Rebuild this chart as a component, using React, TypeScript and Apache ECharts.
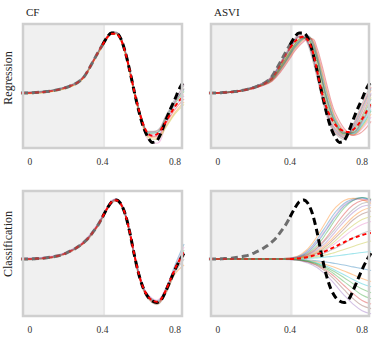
import React, { useEffect, useRef } from "react";
import * as echarts from "echarts";

// ---------- data ----------
const xGrid = [
  -0.05, -0.025, 0, 0.025, 0.05, 0.075, 0.1, 0.125, 0.15, 0.175, 0.2, 0.225, 0.25, 0.275, 0.3, 0.325,
  0.35, 0.375, 0.4, 0.425, 0.45, 0.475, 0.5, 0.525, 0.55, 0.575, 0.6, 0.625, 0.65, 0.675, 0.7, 0.725,
  0.75, 0.775, 0.8, 0.825, 0.85,
];
const sampleX = [
  -0.05, 0.05, 0.15, 0.25, 0.3, 0.35, 0.4, 0.425, 0.45, 0.475, 0.5, 0.525, 0.55, 0.575, 0.6, 0.625,
  0.65, 0.7, 0.75, 0.8, 0.85,
];
const xTickValues = [0, 0.4, 0.8];
const contextEnd = 0.4;
const columnTitles = ["CF", "ASVI"];
const rowTitles = ["Regression", "Classification"];

const regTrue = [
  0, 0, 0, 0.01, 0.02, 0.03, 0.05, 0.07, 0.1, 0.14, 0.18, 0.24, 0.3, 0.4, 0.55, 0.8,
  1.07, 1.35, 1.6, 1.85, 2.0, 2.0, 1.82, 1.37, 0.75, 0.05, -0.6, -1.13, -1.47, -1.65, -1.6, -1.3,
  -0.9, -0.53, -0.2, 0.15, 0.4,
];
const regMeanCF = [
  0, 0, 0, 0.01, 0.02, 0.03, 0.05, 0.07, 0.1, 0.14, 0.18, 0.24, 0.3, 0.4, 0.55, 0.8,
  1.07, 1.35, 1.6, 1.84, 1.97, 1.97, 1.8, 1.36, 0.75, 0.06, -0.55, -1.05, -1.35, -1.43, -1.38, -1.2,
  -0.95, -0.7, -0.45, -0.25, -0.08,
];
const regMeanASVI = [
  0, 0, 0, 0.01, 0.02, 0.03, 0.05, 0.07, 0.1, 0.13, 0.17, 0.22, 0.28, 0.37, 0.48, 0.7,
  0.97, 1.25, 1.5, 1.7, 1.83, 1.87, 1.75, 1.4, 0.75, 0.05, -0.45, -0.8, -1.05, -1.2, -1.28, -1.3,
  -1.23, -1.08, -0.87, -0.62, -0.35,
];
const clsTrue = [
  0, 0, 0, 0.01, 0.02, 0.03, 0.05, 0.07, 0.1, 0.14, 0.2, 0.27, 0.35, 0.45, 0.57, 0.72,
  0.92, 1.13, 1.4, 1.68, 1.9, 1.97, 1.85, 1.5, 0.9, 0.15, -0.5, -0.97, -1.25, -1.4, -1.45, -1.35,
  -1.05, -0.7, -0.35, -0.05, 0.2,
];
const clsMeanCF = [
  0, 0, 0, 0.01, 0.02, 0.03, 0.05, 0.07, 0.1, 0.14, 0.2, 0.27, 0.35, 0.45, 0.57, 0.72,
  0.92, 1.13, 1.4, 1.68, 1.9, 1.96, 1.84, 1.5, 0.9, 0.16, -0.49, -0.96, -1.24, -1.38, -1.42, -1.32,
  -1.03, -0.68, -0.33, -0.03, 0.22,
];
const clsMeanASVI = [
  0, 0, 0, 0, 0, 0, 0, 0, 0, 0, 0, 0, 0, 0, 0, 0,
  0, 0, 0, 0.01, 0.02, 0.04, 0.07, 0.11, 0.16, 0.21, 0.27, 0.34, 0.41, 0.49, 0.56, 0.63,
  0.7, 0.75, 0.8, 0.84, 0.87,
];

const regSamplesCF = [
  [0.02, 0.04, 0.12, 0.32, 0.57, 1.09, 1.62, 1.87, 2.02, 2.02, 1.85, 1.42, 0.8, 0.1, -0.52, -1.02, -1.33, -1.32, -0.82, -0.28, 0.12],
  [-0.02, 0.0, 0.08, 0.28, 0.53, 1.05, 1.57, 1.83, 1.97, 1.97, 1.78, 1.32, 0.7, 0.0, -0.62, -1.12, -1.45, -1.5, -1.1, -0.65, -0.3],
  [0.01, 0.03, 0.11, 0.31, 0.56, 1.08, 1.61, 1.86, 2.0, 2.0, 1.83, 1.38, 0.76, 0.06, -0.56, -1.05, -1.35, -1.33, -0.88, -0.36, 0.05],
  [-0.01, 0.01, 0.09, 0.29, 0.54, 1.06, 1.58, 1.84, 1.98, 1.98, 1.8, 1.34, 0.72, 0.02, -0.6, -1.1, -1.42, -1.45, -1.02, -0.55, -0.2],
  [0.0, 0.02, 0.1, 0.3, 0.55, 1.07, 1.6, 1.85, 1.99, 1.99, 1.81, 1.36, 0.74, 0.04, -0.57, -1.07, -1.38, -1.4, -0.95, -0.45, -0.1],
  [0.01, 0.02, 0.1, 0.3, 0.55, 1.07, 1.6, 1.86, 2.01, 2.0, 1.82, 1.39, 0.78, 0.08, -0.53, -1.0, -1.3, -1.28, -0.8, -0.3, 0.15],
  [0.0, 0.02, 0.1, 0.3, 0.55, 1.07, 1.6, 1.85, 2.0, 2.01, 1.84, 1.4, 0.78, 0.06, -0.62, -1.18, -1.55, -1.68, -1.05, -0.3, 0.3],
  [0.03, 0.05, 0.13, 0.34, 0.59, 1.11, 1.64, 1.89, 2.04, 2.03, 1.86, 1.43, 0.82, 0.12, -0.5, -0.98, -1.28, -1.25, -0.75, -0.2, 0.25],
  [-0.03, -0.01, 0.07, 0.27, 0.52, 1.04, 1.56, 1.82, 1.96, 1.96, 1.77, 1.3, 0.68, -0.03, -0.65, -1.15, -1.48, -1.55, -1.15, -0.7, -0.38],
];
const regSamplesASVI = [
  [0, 0.02, 0.1, 0.28, 0.45, 0.85, 1.3, 1.55, 1.72, 1.82, 1.8, 1.55, 1.1, 0.45, -0.2, -0.7, -1.0, -1.35, -1.3, -0.85, -0.2],
  [0, 0.02, 0.1, 0.3, 0.5, 0.95, 1.45, 1.7, 1.85, 1.85, 1.7, 1.3, 0.7, 0.05, -0.5, -0.95, -1.2, -1.45, -1.2, -0.6, 0.1],
  [0, 0.01, 0.08, 0.26, 0.42, 0.8, 1.25, 1.48, 1.66, 1.8, 1.88, 1.75, 1.3, 0.7, 0.1, -0.42, -0.85, -1.3, -1.38, -1.1, -0.6],
  [0, 0.02, 0.11, 0.32, 0.55, 1.0, 1.5, 1.75, 1.9, 1.88, 1.65, 1.2, 0.6, -0.05, -0.6, -1.05, -1.3, -1.5, -1.1, -0.45, 0.2],
  [0, 0.01, 0.09, 0.27, 0.44, 0.82, 1.28, 1.52, 1.7, 1.84, 1.9, 1.7, 1.25, 0.62, 0.0, -0.52, -0.95, -1.35, -1.35, -1.0, -0.45],
  [0, 0.02, 0.1, 0.29, 0.48, 0.9, 1.38, 1.62, 1.8, 1.84, 1.78, 1.45, 0.9, 0.25, -0.35, -0.82, -1.1, -1.4, -1.25, -0.75, -0.05],
  [0, 0.01, 0.08, 0.25, 0.4, 0.75, 1.2, 1.42, 1.6, 1.74, 1.82, 1.78, 1.4, 0.85, 0.25, -0.3, -0.75, -1.25, -1.4, -1.2, -0.8],
  [0, 0.02, 0.12, 0.33, 0.55, 1.05, 1.55, 1.8, 1.95, 1.88, 1.6, 1.1, 0.5, -0.15, -0.7, -1.12, -1.35, -1.55, -1.05, -0.35, 0.3],
  [0, 0.02, 0.1, 0.28, 0.46, 0.88, 1.35, 1.6, 1.78, 1.84, 1.8, 1.5, 1.0, 0.35, -0.3, -0.78, -1.05, -1.38, -1.28, -0.8, -0.15],
  [0, 0.01, 0.09, 0.27, 0.43, 0.8, 1.27, 1.5, 1.68, 1.8, 1.87, 1.68, 1.2, 0.55, -0.05, -0.55, -0.9, -1.32, -1.36, -1.05, -0.55],
  [0, 0.02, 0.11, 0.31, 0.52, 0.98, 1.47, 1.72, 1.87, 1.86, 1.68, 1.25, 0.65, 0.0, -0.55, -1.0, -1.25, -1.48, -1.15, -0.52, 0.15],
  [0, 0.01, 0.09, 0.26, 0.41, 0.78, 1.22, 1.45, 1.63, 1.77, 1.85, 1.76, 1.35, 0.78, 0.18, -0.36, -0.8, -1.28, -1.4, -1.15, -0.7],
  [0, 0.02, 0.1, 0.29, 0.47, 0.9, 1.36, 1.6, 1.77, 1.85, 1.82, 1.58, 1.12, 0.5, -0.12, -0.62, -0.98, -1.36, -1.33, -0.92, -0.35],
  [0, 0.01, 0.08, 0.25, 0.39, 0.72, 1.15, 1.38, 1.56, 1.7, 1.8, 1.8, 1.5, 0.98, 0.38, -0.2, -0.65, -1.18, -1.42, -1.3, -0.95],
  [0, 0.02, 0.11, 0.32, 0.53, 1.0, 1.48, 1.73, 1.88, 1.87, 1.7, 1.3, 0.75, 0.1, -0.48, -0.92, -1.18, -1.42, -1.22, -0.65, 0.0],
  [0, 0.01, 0.09, 0.28, 0.44, 0.84, 1.3, 1.54, 1.72, 1.83, 1.86, 1.65, 1.18, 0.52, -0.1, -0.6, -0.95, -1.33, -1.32, -0.95, -0.4],
];
const clsSamplesCF = [
  [0.02, 0.04, 0.12, 0.37, 0.6, 0.95, 1.43, 1.71, 1.93, 2.0, 1.89, 1.55, 0.96, 0.21, -0.44, -0.92, -1.2, -1.4, -0.98, -0.2, 0.5],
  [-0.02, 0.0, 0.08, 0.33, 0.54, 0.89, 1.37, 1.65, 1.87, 1.94, 1.81, 1.45, 0.84, 0.09, -0.56, -1.02, -1.3, -1.5, -1.12, -0.5, -0.2],
  [0.01, 0.03, 0.11, 0.36, 0.58, 0.93, 1.41, 1.69, 1.91, 1.98, 1.87, 1.52, 0.93, 0.18, -0.47, -0.95, -1.23, -1.43, -1.02, -0.3, 0.3],
  [-0.01, 0.01, 0.09, 0.34, 0.56, 0.91, 1.39, 1.67, 1.89, 1.96, 1.83, 1.48, 0.87, 0.12, -0.53, -0.99, -1.27, -1.47, -1.08, -0.4, 0.1],
  [0.0, 0.02, 0.1, 0.35, 0.57, 0.92, 1.4, 1.68, 1.9, 1.97, 1.86, 1.51, 0.92, 0.17, -0.48, -0.96, -1.24, -1.44, -1.04, -0.33, 0.22],
  [0.01, 0.02, 0.1, 0.35, 0.57, 0.92, 1.41, 1.69, 1.91, 1.98, 1.84, 1.49, 0.89, 0.14, -0.51, -0.98, -1.26, -1.46, -1.06, -0.37, 0.17],
  [0.03, 0.05, 0.13, 0.38, 0.61, 0.97, 1.45, 1.73, 1.95, 2.01, 1.9, 1.57, 0.98, 0.23, -0.42, -0.9, -1.18, -1.37, -0.95, -0.25, 0.4],
  [-0.03, -0.01, 0.07, 0.32, 0.53, 0.87, 1.35, 1.63, 1.85, 1.93, 1.8, 1.43, 0.82, 0.07, -0.58, -1.04, -1.32, -1.52, -1.15, -0.45, 0.0],
];
const clsSamplesASVI = [
  [0, 0, 0, 0, 0, 0.01, 0.03, 0.06, 0.1, 0.18, 0.3, 0.45, 0.65, 0.88, 1.1, 1.33, 1.55, 1.85, 2.0, 2.05, 1.95],
  [0, 0, 0, 0, 0, 0.01, 0.04, 0.07, 0.12, 0.22, 0.35, 0.53, 0.75, 1.0, 1.25, 1.5, 1.7, 1.95, 2.02, 1.98, 1.85],
  [0, 0, 0, 0, 0, 0.01, 0.02, 0.04, 0.07, 0.13, 0.2, 0.31, 0.45, 0.63, 0.85, 1.07, 1.3, 1.7, 1.95, 2.05, 2.0],
  [0, 0, 0, 0, 0, 0, 0.02, 0.03, 0.06, 0.11, 0.17, 0.26, 0.38, 0.53, 0.7, 0.9, 1.1, 1.5, 1.8, 1.95, 1.98],
  [0, 0, 0, 0, 0, 0, 0.02, 0.03, 0.05, 0.09, 0.14, 0.21, 0.3, 0.42, 0.55, 0.72, 0.9, 1.25, 1.55, 1.75, 1.8],
  [0, 0, 0, 0, 0, 0, 0.01, 0.02, 0.04, 0.07, 0.1, 0.15, 0.22, 0.31, 0.42, 0.55, 0.7, 1.0, 1.3, 1.5, 1.6],
  [0, 0, 0, 0, 0, 0, 0.01, 0.02, 0.03, 0.05, 0.08, 0.12, 0.17, 0.24, 0.32, 0.42, 0.52, 0.75, 0.98, 1.15, 1.25],
  [0, 0, 0, 0, 0, 0, 0.01, 0.02, 0.03, 0.04, 0.06, 0.09, 0.12, 0.17, 0.22, 0.29, 0.36, 0.52, 0.7, 0.85, 0.95],
  [0, 0, 0, 0, 0, 0, 0.01, 0.01, 0.02, 0.03, 0.04, 0.06, 0.08, 0.11, 0.14, 0.18, 0.22, 0.32, 0.42, 0.52, 0.6],
  [0, 0, 0, 0, 0, 0, 0, 0, 0.01, 0.01, 0.02, 0.03, 0.04, 0.05, 0.07, 0.08, 0.1, 0.14, 0.18, 0.22, 0.25],
  [0, 0, 0, 0, 0, 0, 0, 0, -0.01, -0.02, -0.03, -0.04, -0.06, -0.08, -0.1, -0.12, -0.15, -0.2, -0.26, -0.32, -0.38],
  [0, 0, 0, 0, 0, 0, -0.01, -0.01, -0.02, -0.03, -0.05, -0.07, -0.1, -0.14, -0.18, -0.23, -0.28, -0.4, -0.52, -0.65, -0.75],
  [0, 0, 0, 0, 0, 0, -0.01, -0.02, -0.03, -0.05, -0.07, -0.11, -0.15, -0.21, -0.27, -0.35, -0.43, -0.62, -0.82, -1.0, -1.12],
  [0, 0, 0, 0, 0, 0, -0.01, -0.02, -0.03, -0.06, -0.09, -0.14, -0.2, -0.28, -0.37, -0.48, -0.6, -0.88, -1.15, -1.38, -1.5],
  [0, 0, 0, 0, 0, -0.01, -0.02, -0.03, -0.05, -0.09, -0.13, -0.2, -0.28, -0.4, -0.52, -0.68, -0.85, -1.2, -1.5, -1.72, -1.82],
  [0, 0, 0, 0, 0, 0, -0.01, -0.02, -0.04, -0.07, -0.1, -0.16, -0.22, -0.32, -0.42, -0.56, -0.7, -1.02, -1.32, -1.55, -1.65],
  [0, 0, 0, 0, 0, 0.01, 0.03, 0.05, 0.09, 0.16, 0.26, 0.4, 0.58, 0.8, 1.0, 1.23, 1.45, 1.8, 1.97, 2.0, 1.9],
  [0, 0, 0, 0, 0, 0, 0.02, 0.03, 0.05, 0.1, 0.15, 0.23, 0.35, 0.48, 0.65, 0.82, 1.0, 1.35, 1.65, 1.85, 1.9],
  [0, 0, 0, 0, 0, 0, 0.01, 0.02, 0.03, 0.06, 0.09, 0.13, 0.19, 0.27, 0.36, 0.47, 0.6, 0.88, 1.12, 1.32, 1.42],
  [0, 0, 0, 0, 0, 0, -0.01, -0.01, -0.02, -0.04, -0.06, -0.09, -0.13, -0.18, -0.23, -0.3, -0.37, -0.52, -0.68, -0.82, -0.92],
  [0, 0, 0, 0, 0, 0.01, 0.02, 0.04, 0.08, 0.14, 0.24, 0.37, 0.54, 0.74, 0.96, 1.18, 1.4, 1.76, 1.96, 2.03, 1.97],
  [0, 0, 0, 0, 0, 0, 0.01, 0.02, 0.04, 0.08, 0.12, 0.18, 0.26, 0.36, 0.48, 0.62, 0.78, 1.1, 1.4, 1.62, 1.72],
  [0, 0, 0, 0, 0, 0, -0.01, -0.02, -0.03, -0.05, -0.08, -0.12, -0.17, -0.24, -0.32, -0.41, -0.52, -0.75, -0.98, -1.2, -1.32],
];

const sampleColors = [
  "#1f77b4", "#ff7f0e", "#2ca02c", "#d62728", "#9467bd",
  "#8c564b", "#e377c2", "#7f7f7f", "#bcbd22", "#17becf",
];

const SERIF = '"Liberation Serif", "DejaVu Serif", serif';

export default function App() {
  const ref = useRef<HTMLDivElement>(null);
  useEffect(() => {
    if (!ref.current) return;
    const chart = echarts.init(ref.current, null, { renderer: "svg" });

    const xMin = -0.0441;
    const xMax = 0.844;
    const panels = [
      { rect: { left: 22, top: 23, width: 161, height: 126 }, yMin: -1.87, yMax: 2.33, truth: regTrue, mean: regMeanCF, samples: regSamplesCF },
      { rect: { left: 210, top: 23, width: 160, height: 126 }, yMin: -1.87, yMax: 2.33, truth: regTrue, mean: regMeanASVI, samples: regSamplesASVI },
      { rect: { left: 22, top: 190, width: 161, height: 127 }, yMin: -1.93, yMax: 2.3, truth: clsTrue, mean: clsMeanCF, samples: clsSamplesCF },
      { rect: { left: 210, top: 190, width: 160, height: 127 }, yMin: -1.93, yMax: 2.3, truth: clsTrue, mean: clsMeanASVI, samples: clsSamplesASVI },
    ];

    const pairs = (xs: number[], ys: number[]) => xs.map((x, i) => [x, ys[i]]);

    const grids: any[] = [];
    const xAxes: any[] = [];
    const yAxes: any[] = [];
    const series: any[] = [];
    const graphics: any[] = [];

    panels.forEach((p, idx) => {
      grids.push({ ...p.rect, containLabel: false });
      xAxes.push({
        type: "value",
        gridIndex: idx,
        min: xMin,
        max: xMax,
        axisLine: { show: false },
        axisTick: { show: false },
        splitLine: { show: false },
        axisLabel: {
          customValues: xTickValues,
          formatter: (v: number) => String(Math.round(v * 10) / 10),
          fontFamily: SERIF,
          fontSize: 9.5,
          color: "#333",
          margin: 8,
        },
      });
      yAxes.push({
        type: "value",
        gridIndex: idx,
        min: p.yMin,
        max: p.yMax,
        show: false,
        splitLine: { show: false },
      });
      const ax = { xAxisIndex: idx, yAxisIndex: idx };
      // context shading
      series.push({
        type: "line",
        ...ax,
        z: 1,
        data: [[xMin, p.yMin]],
        showSymbol: false,
        lineStyle: { width: 0 },
        silent: true,
        markArea: {
          silent: true,
          data: [
            [{ xAxis: xMin, itemStyle: { color: "#f0f0f0" } }, { xAxis: contextEnd }],
            [{ xAxis: contextEnd, itemStyle: { color: "#e8e8e8" } }, { xAxis: 0.414 }],
          ],
        },
      });
      // samples (below)
      p.samples.forEach((s, k) => {
        series.push({
          type: "line", ...ax, z: 2, data: pairs(sampleX, s), showSymbol: false, smooth: 0.4, silent: true,
          lineStyle: { color: sampleColors[k % sampleColors.length], width: 1.1, opacity: 0.4 },
        });
      });
      // truth: context (gray) and target (black)
      const ctx = xGrid.map((x, i) => [x, p.truth[i]]).filter((d) => d[0] <= contextEnd);
      const tgt = xGrid.map((x, i) => [x, p.truth[i]]).filter((d) => d[0] >= contextEnd);
      series.push({
        type: "line", ...ax, z: 3, data: ctx, showSymbol: false, smooth: 0.3, silent: true,
        lineStyle: { color: "#6e6e6e", width: 3, type: [7, 4] },
      });
      series.push({
        type: "line", ...ax, z: 3, data: tgt, showSymbol: false, smooth: 0.3, silent: true,
        lineStyle: { color: "#000000", width: 3, type: [7, 4] },
      });
      // mean: faint in context, strong in target
      const meanPts = pairs(xGrid, p.mean);
      series.push({
        type: "line", ...ax, z: 4, data: meanPts.filter((d) => d[0] <= contextEnd), showSymbol: false, smooth: 0.3, silent: true,
        lineStyle: { color: "#ff0000", width: 2, type: [4, 3], opacity: 0.5 },
      });
      series.push({
        type: "line", ...ax, z: 4, data: meanPts.filter((d) => d[0] >= contextEnd), showSymbol: false, smooth: 0.3, silent: true,
        lineStyle: { color: "#ff0000", width: 2, type: [4, 3] },
      });
      // frame
      graphics.push({
        type: "rect",
        z: 100,
        silent: true,
        shape: { x: p.rect.left + 1, y: p.rect.top + 1, width: p.rect.width - 2, height: p.rect.height - 2 },
        style: { fill: "none", stroke: "#cfcfcf", lineWidth: 2.5 },
      });
    });

    columnTitles.forEach((t, i) => {
      graphics.push({
        type: "text",
        x: i === 0 ? 26 : 214,
        y: 12,
        z: 100,
        style: { text: t, font: `11px ${SERIF}`, fill: "#222", align: "left", verticalAlign: "middle" },
      });
    });
    rowTitles.forEach((t, i) => {
      graphics.push({
        type: "text",
        x: 8,
        y: i === 0 ? 78 : 244,
        rotation: Math.PI / 2,
        z: 100,
        style: { text: t, font: `12px ${SERIF}`, fill: "#222", align: "center", verticalAlign: "middle" },
      });
    });

    chart.setOption({
      animation: false,
      backgroundColor: "#ffffff",
      grid: grids,
      xAxis: xAxes,
      yAxis: yAxes,
      series,
      graphic: graphics,
    });
    return () => chart.dispose();
  }, []);
  return <div ref={ref} style={{ position: "absolute", left: 0, top: 0, width: 374, height: 337 }} />;
}
